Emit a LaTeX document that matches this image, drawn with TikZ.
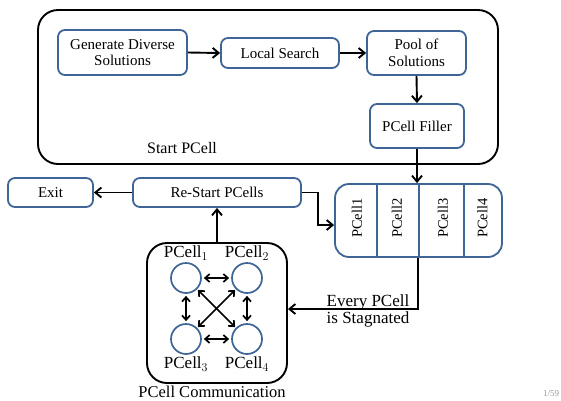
\documentclass[tikz,border=0pt]{standalone}
\usepackage{fontspec}
\setmainfont{Liberation Serif}
\usetikzlibrary{arrows.meta,calc}
\definecolor{boxblue}{RGB}{62,101,150}
\definecolor{pagenum}{RGB}{150,150,150}
\tikzset{
  stepbox/.style={draw=boxblue, line width=1.8pt, rounded corners=7pt, fill=white,
    align=center, inner sep=0pt, font=\fontsize{15}{16.5}\selectfont},
  bigframe/.style={draw=black, line width=1.9pt, rounded corners=20pt},
  cellcirc/.style={draw=boxblue, line width=1.7pt, circle, minimum size=30pt, inner sep=0pt},
  flow/.style={draw=black, line width=1.9pt, -{Straight Barb[length=6pt,width=10pt]}},
  twoway/.style={draw=black, line width=1.7pt, {Straight Barb[length=4.5pt,width=8pt]}-{Straight Barb[length=4.5pt,width=8pt]}},
  lbl/.style={font=\fontsize{15.5}{17}\selectfont, inner sep=0pt, align=center},
  biglbl/.style={lbl, font=\fontsize{17}{19}\selectfont},
  celllbl/.style={lbl, rotate=90, font=\fontsize{14.5}{16}\selectfont},
}
\begin{document}
\begin{tikzpicture}[x=1pt,y=-1pt]
\useasboundingbox (0,0) rectangle (561,400);

% Start PCell frame
\node[bigframe, minimum width=460pt, minimum height=154pt, inner sep=0pt] (startframe) at (268,87) {};
\node[lbl, font=\fontsize{16}{18}\selectfont] (startlbl) at (182,148) {Start PCell};

% steps inside the frame
\node[stepbox, minimum width=129pt, minimum height=45pt] (gen) at (122.5,52.5) {Generate Diverse\\Solutions};
\node[stepbox, minimum width=118pt, minimum height=30pt] (ls) at (280,53) {Local Search};
\node[stepbox, minimum width=99pt, minimum height=44pt] (pool) at (416.5,53) {Pool of\\Solutions};
\node[stepbox, minimum width=94pt, minimum height=44pt] (filler) at (417,126) {PCell Filler};

% second row
\node[stepbox, minimum width=85pt, minimum height=29pt] (exit) at (50.5,192.5) {Exit};
\node[stepbox, minimum width=168pt, minimum height=29pt] (restart) at (217,192.5) {Re-Start PCells};

% PCell array
\node[stepbox, minimum width=167pt, minimum height=73pt, rounded corners=14pt] (array) at (418.5,220.5) {};
\draw[boxblue, line width=1.6pt] (377,0 |- array.north) -- (377,0 |- array.south);
\draw[boxblue, line width=1.6pt] (419,0 |- array.north) -- (419,0 |- array.south);
\draw[boxblue, line width=1.6pt] (464,0 |- array.north) -- (464,0 |- array.south);
\node[celllbl] (pc1) at (357,218) {PCell1};
\node[celllbl] (pc2) at (397,218) {PCell2};
\node[celllbl] (pc3) at (443,218) {PCell3};
\node[celllbl] (pc4) at (482.5,218) {PCell4};

% communication frame
\node[bigframe, minimum width=140pt, minimum height=140pt, inner sep=0pt] (comm) at (217,313) {};
\node[biglbl, font=\fontsize{16.5}{18}\selectfont] (commlbl) at (212,392) {PCell Communication};
\node[cellcirc] (c1) at (186,278) {};
\node[cellcirc] (c2) at (247,278) {};
\node[cellcirc] (c3) at (186,339) {};
\node[cellcirc] (c4) at (247,339) {};
\node[biglbl] (l1) at (186,253) {PCell$_1$};
\node[biglbl] (l2) at (247,253) {PCell$_2$};
\node[biglbl] (l3) at (186,364) {PCell$_3$};
\node[biglbl] (l4) at (247,364) {PCell$_4$};

\draw[twoway, shorten <=2pt, shorten >=2pt] (c1) -- (c2);
\draw[twoway, shorten <=2pt, shorten >=2pt] (c3) -- (c4);
\draw[twoway, shorten <=2pt, shorten >=2pt] (c1) -- (c3);
\draw[twoway, shorten <=2pt, shorten >=2pt] (c2) -- (c4);
\draw[twoway, shorten <=1pt, shorten >=1pt] (c1) -- (c4);
\draw[twoway, shorten <=1pt, shorten >=1pt] (c2) -- (c3);

% flow arrows
\draw[flow] (gen.east) -- (ls.west);
\draw[flow] (ls.east) -- (pool.west);
\draw[flow] (pool.south) -- (filler.north);
\draw[flow] (filler.south) -- (filler.south |- array.north);
\draw[flow] (restart.west) -- (exit.east);
\coordinate (bend) at (318,225);
\draw[flow] (restart.east) -| (bend) -- (bend -| array.west);
\draw[flow] (comm.north) -- (restart.south);
\coordinate (drop) at (418,309);
\draw[flow] (drop |- array.south) -- (drop) -- (drop -| comm.east);
\node[biglbl, anchor=south] (every) at (368,310) {Every PCell};
\node[biglbl, anchor=north] (stag) at (368,311) {is Stagnated};

% slide number
\node[font=\fontsize{9}{10}\selectfont, text=pagenum, anchor=west, inner sep=0pt] (pnum) at (543,394) {1/59};
\end{tikzpicture}
\end{document}
